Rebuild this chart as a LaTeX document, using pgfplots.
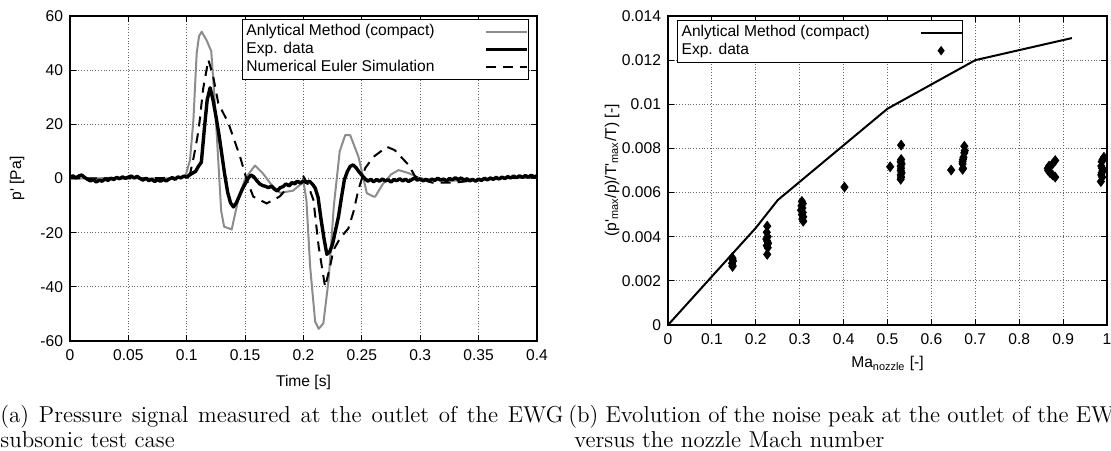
\documentclass[border=0pt]{standalone}
\usepackage{fontspec}
\usepackage{pgfplots}
\usepackage{pgfplotstable}
\pgfplotsset{compat=1.18}
\newfontfamily\helv{Liberation Sans}
\newcommand\gfont{\helv\fontsize{7.8}{9}\selectfont}

\pgfplotstableread{
t p
0 0
0.02 0
0.04 0.3
0.06 0
0.08 0
0.095 0.3
0.099 1
0.1028 6.8
0.1057 21.6
0.1085 46.2
0.1105 52.5
0.1128 54.2
0.117 51
0.121 47
0.1245 25
0.1275 3
0.1295 -12
0.132 -17.8
0.1385 -18.8
0.144 -8
0.150 0
0.1585 4.8
0.165 2
0.172 -2
0.18 -5.3
0.191 -4.5
0.198 -2
0.2 -1.2
0.2025 -8
0.2057 -32.6
0.21 -52.9
0.213 -55.5
0.217 -53.5
0.2215 -37.5
0.226 -10
0.231 10
0.2357 16
0.24 16
0.2471 8
0.2542 -5.4
0.26 -6.7
0.2614 -6.7
0.268 -2
0.275 1.5
0.2814 3.1
0.29 2
0.30 0
0.32 -0.8
0.35 -0.8
0.37 0
0.4 0.5
}\analytic

\pgfplotstableread{
t p
0 0.3
0.0025 1.0
0.005 0.2
0.0075 0.9
0.01 1.3
0.0125 0.4
0.015 -0.3
0.0175 -0.9
0.02 -0.4
0.0225 -1.3
0.025 -0.6
0.0275 -1.0
0.03 -0.2
0.0325 -0.7
0.035 0.1
0.0375 -0.4
0.04 0.4
0.0425 -0.1
0.045 0.6
0.0475 0.1
0.05 0.5
0.0525 0.9
0.055 0.2
0.0575 0.8
0.06 0.0
0.0625 -0.6
0.065 0.1
0.0675 -0.8
0.07 -0.3
0.0725 -1.1
0.075 -0.5
0.0775 -1.0
0.08 -0.4
0.0825 -0.9
0.085 -0.2
0.0875 0.3
0.09 -0.3
0.0925 0.6
0.095 0.2
0.0975 0.9
0.1 0.5
0.1025 1.3
0.105 2.0
0.1075 2.6
0.11 4.5
0.1125 6.0
0.115 18
0.1175 29
0.12 33.5
0.1225 29
0.125 23
0.1275 16.5
0.13 9
0.1325 1.5
0.135 -5
0.1375 -9
0.14 -10.5
0.1425 -9
0.145 -6.5
0.1475 -4
0.15 -2
0.1525 0
0.155 1.3
0.1575 0.6
0.16 -0.8
0.1625 -2.0
0.165 -2.6
0.1675 -2.9
0.17 -3.4
0.1725 -2.8
0.175 -3.9
0.1775 -4.6
0.18 -3.4
0.1825 -3.0
0.185 -2.0
0.1875 -2.7
0.19 -1.5
0.1925 -2.0
0.195 -1.0
0.1975 -1.7
0.2 -0.8
0.2025 -1.5
0.205 -1.0
0.2075 -2.0
0.21 -3.5
0.2125 -7
0.215 -15
0.2175 -22
0.22 -28
0.2225 -27
0.225 -24
0.2275 -19
0.23 -14
0.2325 -7
0.235 -0.5
0.2375 2.5
0.24 4.5
0.2425 5
0.245 4
0.2475 2.5
0.25 1.2
0.2525 0
0.255 -1.0
0.2575 -0.3
0.26 -1.2
0.2625 -0.4
0.265 -1.0
0.2675 -0.2
0.27 -0.9
0.2725 -0.5
0.275 -1.3
0.2775 -0.4
0.28 -0.8
0.2825 -0.1
0.285 -0.9
0.2875 -0.3
0.29 -1.1
0.2925 -0.5
0.295 0.2
0.2975 -0.6
0.3 -0.1
0.3025 -0.9
0.305 -0.3
0.3075 -1.0
0.31 -0.2
0.3125 -0.7
0.315 0.1
0.3175 -0.6
0.32 -0.2
0.3225 -0.9
0.325 0.0
0.3275 -0.5
0.33 0.3
0.3325 -0.4
0.335 0.2
0.3375 -0.6
0.34 -0.1
0.3425 -0.9
0.345 -0.3
0.3475 -1.0
0.35 -0.2
0.3525 -0.7
0.355 0.1
0.3575 -0.5
0.36 0.2
0.3625 -0.3
0.365 0.4
0.3675 -0.2
0.37 0.5
0.3725 0.0
0.375 0.7
0.3775 0.2
0.38 0.9
0.3825 0.3
0.385 1.0
0.3875 0.4
0.39 1.1
0.3925 0.5
0.395 1.2
0.3975 0.6
0.4 1.0
}\expdata

\pgfplotstableread{
t p
0 0
0.05 0
0.1 0.3
0.103 2
0.106 8
0.109 15
0.111 21
0.114 33
0.1185 43.8
0.1225 38
0.127 27.8
0.1357 20.4
0.1457 8
0.151 0
0.157 -6.7
0.1685 -9.2
0.177 -7.3
0.18 -6.5
0.186 -3.5
0.191 -1.8
0.2 0.7
0.2035 -2
0.2085 -7.9
0.213 -25.2
0.2185 -40
0.2225 -33
0.2257 -26.4
0.2314 -22
0.2385 -18.4
0.2428 -12.3
0.247 -4.2
0.2528 3.8
0.26 8
0.2714 11.7
0.278 10.5
0.29 5
0.2957 0.7
0.31 -1.5
0.33 -1.5
0.36 0
0.4 0.5
}\numeuler

\pgfplotstableread{
M v
0 0
0.1 0.0022
0.2 0.0044
0.25 0.00566
0.5 0.0098
0.7 0.0120
0.92 0.0130
}\analyticB

\pgfplotstableread{
M v
0.147 0.00265
0.147 0.0027
0.146 0.0028
0.148 0.0029
0.147 0.0030
0.146 0.00305
0.226 0.00448
0.225 0.0042
0.227 0.0040
0.224 0.0039
0.226 0.0038
0.228 0.0037
0.225 0.0036
0.227 0.0035
0.226 0.0032
0.305 0.0056
0.307 0.0055
0.304 0.0054
0.306 0.0053
0.303 0.0052
0.307 0.0051
0.305 0.0050
0.308 0.0049
0.306 0.0048
0.308 0.0047
0.402 0.00625
0.506 0.00717
0.531 0.00815
0.531 0.0075
0.530 0.0074
0.532 0.0073
0.530 0.0072
0.531 0.0071
0.530 0.0070
0.532 0.0069
0.530 0.0068
0.531 0.0067
0.530 0.0066
0.645 0.00702
0.675 0.0081
0.676 0.0079
0.675 0.0078
0.673 0.0076
0.672 0.0075
0.671 0.0074
0.671 0.0073
0.672 0.0071
0.671 0.00705
0.882 0.00745
0.876 0.0073
0.868 0.0072
0.865 0.0071
0.866 0.0070
0.870 0.0069
0.876 0.0068
0.882 0.0067
0.993 0.0076
0.990 0.0075
0.988 0.0074
0.987 0.0072
0.989 0.0071
0.990 0.0070
0.988 0.0069
0.987 0.0068
0.989 0.0067
0.986 0.0065
}\expB

\pgfplotsset{gp/.style={
  scale only axis,
  axis line style={line width=0.7pt},
  every tick/.style={black, line width=0.5pt},
  major tick length=3pt,
  grid=major,
  major grid style={densely dotted, black!60, line width=0.45pt},
  tick label style={font=\gfont},
  xticklabel style={yshift=-1pt},
  label style={font=\gfont},
  /pgf/number format/assume math mode=true,
  scaled ticks=false,
  legend style={draw=black, line width=0.6pt, fill=white, font=\gfont,
     inner xsep=0pt, inner ysep=0.5pt, row sep=-2.2pt,
     cells={anchor=west}},
  legend cell align=left,
  legend plot pos=right,
  legend image code/.code={\draw[##1] (0pt,0pt) -- (20.5pt,0pt);},
},
diamondlegend/.style={legend image code/.code={\path[draw=none,fill=none] (0pt,0pt) -- (20.5pt,0pt);
   \path[draw=none,fill=black] (10.25pt,2.4pt) -- (12.05pt,0pt) -- (10.25pt,-2.4pt) -- (8.45pt,0pt) -- cycle;}},
}

\begin{document}
\begin{tikzpicture}[x=1pt,y=1pt]
\begin{axis}[gp, at={(35pt,54.5pt)}, anchor=south west,
  width=233.5pt, height=162.5pt,
  xmin=0, xmax=0.4, ymin=-60, ymax=60,
  xtick={0,0.05,0.1,0.15,0.2,0.25,0.3,0.35,0.4},
  ytick={-60,-40,-20,0,20,40,60},
  xticklabel style={/pgf/number format/.cd, fixed, precision=2},
  xlabel={Time [s]}, ylabel={p' [Pa]},
  xlabel style={at={(axis description cs:0.5,-0.1415)}, anchor=base},
  ylabel style={at={(axis description cs:-0.1135,0.5)}, anchor=center},
  legend style={at={(0.368,0.991)}, anchor=north west},
]
\addplot[black!45, line width=1pt, line join=round] table[x=t,y=p] {\analytic};
\addlegendentry{\makebox[117pt][l]{Anlytical Method (compact)}}
\addplot[black, line width=1.7pt, line join=round] table[x=t,y=p] {\expdata};
\addlegendentry{\makebox[117pt][l]{Exp. data}}
\addplot[black, line width=1pt, dash pattern=on 5pt off 3.5pt] table[x=t,y=p] {\numeuler};
\addlegendentry{\makebox[117pt][l]{Numerical Euler Simulation}}
\end{axis}

\begin{axis}[gp, at={(334pt,62.5pt)}, anchor=south west,
  width=219.5pt, height=154.5pt,
  xmin=0, xmax=1, ymin=0, ymax=0.014,
  xtick={0,0.1,0.2,0.3,0.4,0.5,0.6,0.7,0.8,0.9,1},
  ytick={0,0.002,0.004,0.006,0.008,0.01,0.012,0.014},
  xticklabel style={/pgf/number format/.cd, fixed, precision=1},
  yticklabel style={/pgf/number format/.cd, fixed, precision=3},
  xlabel={Ma\textsubscript{nozzle} [-]},
  ylabel={(p'\textsubscript{max}/p)/T'\textsubscript{max}/T) [-]},
  xlabel style={at={(axis description cs:0.5,-0.139)}, anchor=base},
  ylabel style={at={(axis description cs:-0.1276,0.5)}, anchor=center},
  legend style={at={(0.0205,0.987)}, anchor=north west},
]
\addplot[black, line width=1pt, line join=round] table[x=M,y=v] {\analyticB};
\addlegendentry{\makebox[117pt][l]{Anlytical Method (compact)}}
\addplot[black, only marks, mark=diamond*, mark size=2.4pt, diamondlegend]
  table[x=M,y=v] {\expB};
\addlegendentry{\makebox[117pt][l]{Exp. data}}
\end{axis}

\begin{scope}[every node/.style={anchor=base west, inner sep=0pt, font=\fontsize{11.5}{12.5}\selectfont}]
\node at (0,14) {\makebox[281.5pt][s]{(a) Pressure signal measured at the outlet of the EWG}};
\node at (0,1.5) {subsonic test case};
\node at (284,14) {\makebox[281.5pt][s]{(b) Evolution of the noise peak at the outlet of the EWG}};
\node at (287,1.5) {versus the nozzle Mach number};
\end{scope}

\pgfresetboundingbox
\useasboundingbox (0,0) rectangle (555.5,225);
\end{tikzpicture}
\end{document}
